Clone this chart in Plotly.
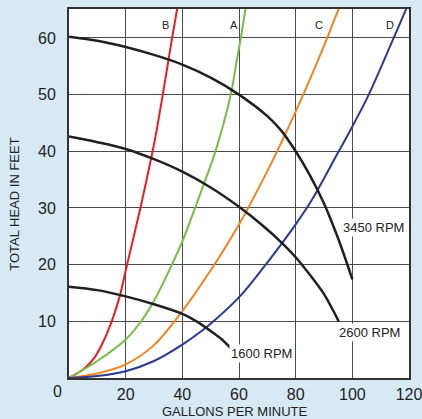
import plotly.graph_objects as go

# Pump curves (head vs flow)
rpm3450_x = [0, 10, 20, 30, 40, 50, 60, 70, 75, 80, 85, 90, 95, 100]
rpm3450_y = [60.2, 59.5, 58.4, 57.0, 55.3, 53.0, 50.0, 46.2, 43.6, 40.0, 35.8, 30.8, 24.6, 17.4]
rpm2600_x = [0, 10, 20, 30, 40, 50, 60, 67.6, 75.2, 80, 85, 90, 95.2]
rpm2600_y = [42.6, 41.6, 40.4, 38.6, 36.4, 33.6, 30.2, 27.2, 23.8, 21.3, 18.2, 14.8, 10]
rpm1600_x = [0, 10, 20, 30, 40, 45, 50, 54, 57.4]
rpm1600_y = [16.1, 15.5, 14.4, 13.0, 11.3, 10.0, 8.3, 6.8, 5.1]

# System curves A-D
sysB_x = [0, 5, 9, 12, 15.3, 17.9, 20.5, 25.2, 27.4, 30.3, 33.1, 36.4, 38.2]
sysB_y = [0, 1.5, 3.6, 6.3, 10.3, 14.4, 20, 30, 35, 42, 50, 60, 65.2]
sysA_x = [0, 10, 20, 25, 30, 35, 40, 46.4, 51.7, 57.1, 59.2, 60.8, 62.3]
sysA_y = [0, 3, 6.8, 9.7, 13.6, 18.6, 24.1, 32.6, 40, 50, 56, 60.5, 65.2]
sysC_x = [0, 10, 20, 30, 40, 50, 60, 70, 80, 90, 95.2]
sysC_y = [0, 0.8, 2.4, 5.8, 11.8, 19.0, 27.1, 36.5, 47.0, 58.6, 65.2]
sysD_x = [0, 10, 20, 30, 40, 47.6, 51.7, 60.3, 68.8, 75.2, 80, 85.8, 95.2, 99.4, 105.8, 114.6, 119.1]
sysD_y = [0, 0.35, 1.2, 3.0, 5.9, 8.6, 10.3, 14.4, 19.6, 23.8, 27.1, 31.5, 40, 43.8, 50, 60, 65.2]

x_ticks = [20, 40, 60, 80, 100, 120]
y_ticks = [10, 20, 30, 40, 50, 60]

curve_labels = ["B", "A", "C", "D"]
curve_label_x = [34.1, 58.4, 88.2, 113.2]
curve_label_y = [62.2, 62.2, 62.2, 62.2]

rpm_labels = ["3450 RPM", "2600 RPM", "1600 RPM"]
rpm_label_x = [107.4, 106.1, 67.9]
rpm_label_y = [26.5, 8.0, 4.3]

FONT = "Liberation Sans, Arial, sans-serif"
fig = go.Figure()

for xs, ys, col in [(sysB_x, sysB_y, "#ed1c24"), (sysA_x, sysA_y, "#72bf44"),
                    (sysC_x, sysC_y, "#f58220"), (sysD_x, sysD_y, "#2b3990")]:
    fig.add_trace(go.Scatter(x=xs, y=ys, mode="lines",
                             line=dict(color=col, width=2, shape="spline", smoothing=0.9),
                             hoverinfo="skip", showlegend=False))

for xs, ys in [(rpm3450_x, rpm3450_y), (rpm2600_x, rpm2600_y), (rpm1600_x, rpm1600_y)]:
    fig.add_trace(go.Scatter(x=xs, y=ys, mode="lines",
                             line=dict(color="#231f20", width=2.5, shape="spline", smoothing=0.9),
                             hoverinfo="skip", showlegend=False))

annotations = []
for t, x, y in zip(curve_labels, curve_label_x, curve_label_y):
    annotations.append(dict(x=x, y=y, xref="x", yref="y", text=t, showarrow=False,
                            font=dict(family=FONT, size=11, color="#222")))
for t, x, y in zip(rpm_labels, rpm_label_x, rpm_label_y):
    annotations.append(dict(x=x, y=y, xref="x", yref="y", text=t, showarrow=False,
                            bgcolor="white", borderpad=1,
                            font=dict(family=FONT, size=13, color="#222")))
annotations.append(dict(x=0, y=0, xref="x", yref="y", text="0", showarrow=False,
                        xshift=-12, yshift=-13.5, font=dict(family=FONT, size=16, color="#222")))
annotations.append(dict(x=-0.159, y=0.472, xref="paper", yref="paper", text="TOTAL HEAD IN FEET",
                        textangle=-90, showarrow=False, xanchor="center", yanchor="middle",
                        font=dict(family=FONT, size=13, color="#222")))
annotations.append(dict(x=0.488, y=-0.092, xref="paper", yref="paper", text="GALLONS PER MINUTE",
                        showarrow=False, xanchor="center", yanchor="middle",
                        font=dict(family=FONT, size=13, color="#222")))

fig.update_layout(
    width=422, height=419,
    margin=dict(l=69, r=13, t=9, b=41, autoexpand=False),
    paper_bgcolor="#d6e9f5", plot_bgcolor="white",
    annotations=annotations,
    xaxis=dict(range=[0, 120], tickvals=x_ticks, ticktext=[str(v) for v in x_ticks],
               showgrid=True, gridcolor="#4a4a4a", gridwidth=1, zeroline=False,
               showline=True, linecolor="#333", linewidth=2, mirror=True,
               ticks="", ticklabelstandoff=1, automargin=False, ticklabeloverflow="allow",
               tickfont=dict(family=FONT, size=16, color="#222")),
    yaxis=dict(range=[0, 65.1], tickvals=y_ticks, ticktext=[str(v) for v in y_ticks],
               showgrid=True, gridcolor="#4a4a4a", gridwidth=1, zeroline=False,
               showline=True, linecolor="#333", linewidth=2, mirror=True,
               ticks="", ticklabelstandoff=8, automargin=False,
               tickfont=dict(family=FONT, size=16, color="#222")),
)

fig.write_html("out.html", config={"displayModeBar": False},
               post_script="document.body.style.margin='0';document.body.style.overflow='hidden';")
